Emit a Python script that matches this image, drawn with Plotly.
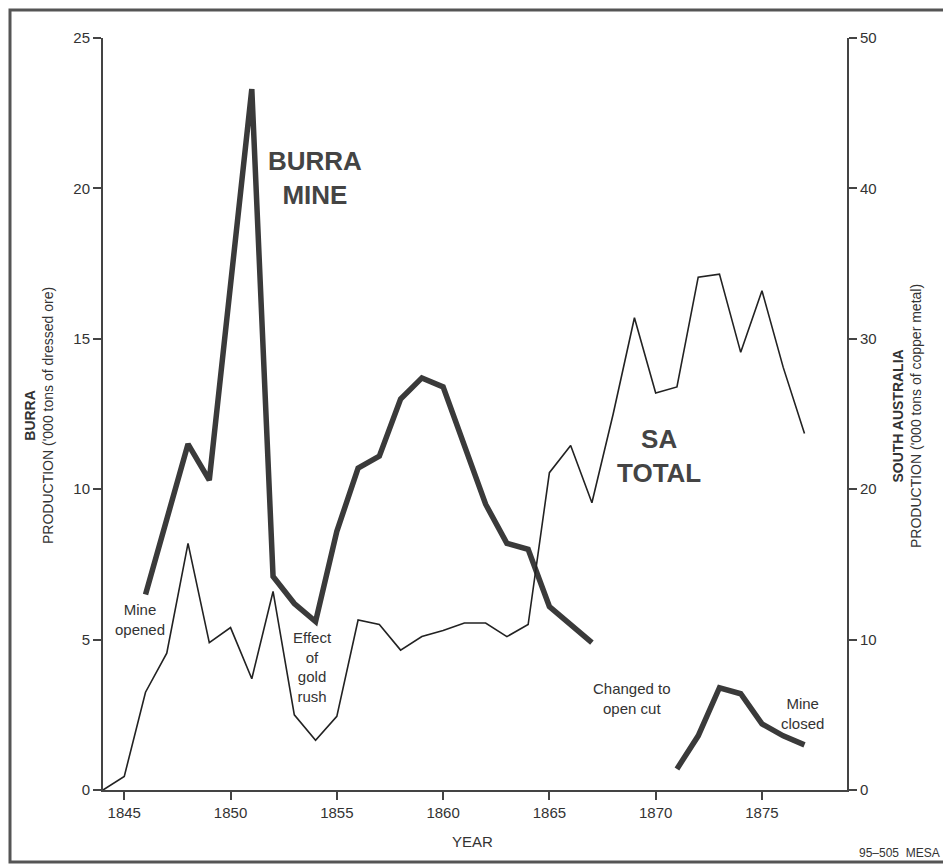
import plotly.graph_objects as go

# ---- data ----
burra_years = list(range(1846, 1878))
burra_prod = [6.5, 9.0, 11.5, 10.3, 17.0, 23.3, 7.1, 6.2, 5.6, 8.6,
              10.7, 11.1, 13.0, 13.7, 13.4, 11.4, 9.5, 8.2, 8.0, 6.1,
              5.5, 4.9, None, None, None, 0.7, 1.8, 3.4, 3.2, 2.2,
              1.8, 1.5]

sa_years = list(range(1844, 1878))
sa_prod = [0.0, 0.9, 6.5, 9.1, 16.4, 9.8, 10.8, 7.4, 13.2, 5.0,
           3.3, 4.9, 11.3, 11.0, 9.3, 10.2, 10.6, 11.1, 11.1, 10.2,
           11.0, 21.1, 22.9, 19.1, 25.0, 31.4, 26.4, 26.8, 34.1, 34.3,
           29.1, 33.2, 28.1, 23.7]

x_ticks = [1845, 1850, 1855, 1860, 1865, 1870, 1875]
left_ticks = [0, 5, 10, 15, 20, 25]
right_ticks = [0, 10, 20, 30, 40, 50]

# ---- layout geometry (pixels in the screenshot; page body has an 8px margin) ----
OFF = 8
W, H = 951 - OFF, 865 - OFF
L, R, T, B = 103, 847, 38, 790
PW, PH = R - L, B - T


def px(x):
    return (x - L) / PW


def py(y):
    return (B - y) / PH


INK = "#3a3a3a"
FONT = "Liberation Sans, Arial, sans-serif"

fig = go.Figure()
fig.add_trace(go.Scatter(x=sa_years, y=sa_prod, mode="lines", yaxis="y2",
                         line=dict(color="#222222", width=1.6),
                         showlegend=False, hoverinfo="x+y"))
fig.add_trace(go.Scatter(x=burra_years, y=burra_prod, mode="lines",
                         line=dict(color=INK, width=5.5),
                         connectgaps=False, showlegend=False, hoverinfo="x+y"))

axis_common = dict(showline=True, linecolor="#444444", linewidth=2,
                   ticks="outside", ticklen=8, tickwidth=1.5, tickcolor="#444444",
                   showgrid=False, zeroline=False,
                   tickfont=dict(family=FONT, size=15, color="#333333"))

fig.update_layout(
    width=W, height=H,
    margin=dict(l=L - OFF, r=W - (R - OFF), t=T - OFF, b=H - (B - OFF), pad=0),
    paper_bgcolor="white", plot_bgcolor="white",
    xaxis=dict(range=[1844, 1879], tickvals=x_ticks, **axis_common),
    yaxis=dict(range=[0, 25], tickvals=left_ticks, **axis_common),
    yaxis2=dict(range=[0, 50], tickvals=right_ticks, overlaying="y", side="right",
                **axis_common),
)

# outer frame
fig.add_shape(type="rect", xref="paper", yref="paper",
              x0=px(10), x1=px(946), y0=py(862), y1=py(10),
              line=dict(color="#555555", width=3), fillcolor="rgba(0,0,0,0)",
              layer="below")


def ann(text, x, y, size=14, angle=0, color="#333333", xanchor="center"):
    fig.add_annotation(text=text, x=px(x), y=py(y), xref="paper", yref="paper",
                       showarrow=False, textangle=angle, xanchor=xanchor,
                       yanchor="middle", align="center",
                       font=dict(family=FONT, size=size, color=color))


ann("<b>BURRA</b><br>PRODUCTION ('000 tons of dressed ore)", 39, 416, size=14, angle=-90)
ann("<b>SOUTH AUSTRALIA</b><br>PRODUCTION ('000 tons of copper metal)", 907, 416, size=14, angle=-90)
ann("YEAR", 472, 842, size=15)
ann("95\u2013505  MESA", 942, 853, size=12, xanchor="right")

ann("<b>BURRA</b><br><b>MINE</b>", 315, 178, size=26, color="#444444")
ann("<b>SA</b><br><b>TOTAL</b>", 659, 456, size=26, color="#444444")

ann("Mine<br>opened", 140, 619, size=15)
ann("Effect<br>of<br>gold<br>rush", 312, 667, size=15)
ann("Changed to<br>open cut", 632, 698, size=15)
ann("Mine<br>closed", 802, 713, size=15)

fig.write_html("out.html")
